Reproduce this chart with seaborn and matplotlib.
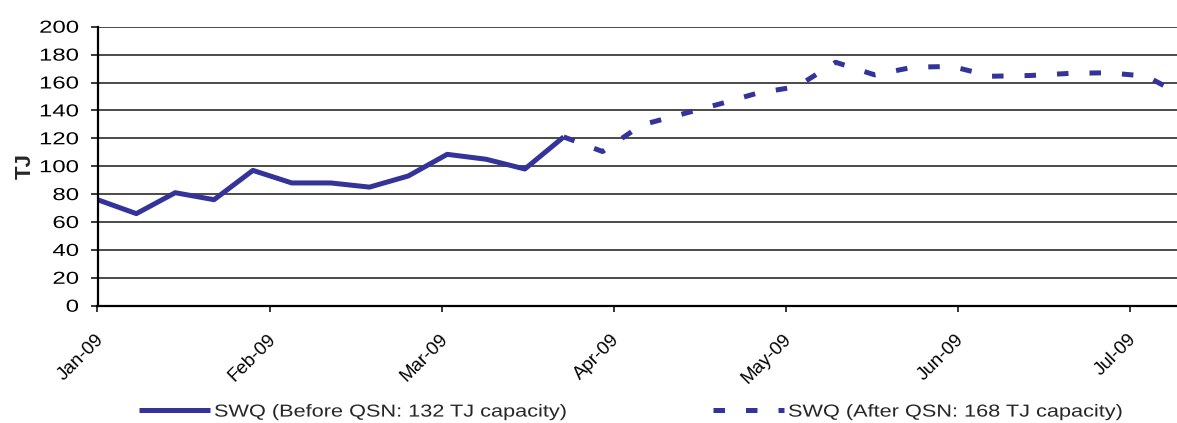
import matplotlib
matplotlib.use("Agg")
import matplotlib.pyplot as plt
import matplotlib.dates as mdates
import matplotlib.patheffects as patheffects
from matplotlib.transforms import Affine2D, ScaledTranslation
import pandas as pd
import seaborn as sns

# Weekly SWQ flows (TJ), first week starting 1 Jan 2009
first_week = "2009-01-01"
before_values = [76, 66, 81, 76, 97, 88, 88, 85, 93, 108.5, 105, 98, 121]
after_values = [121, 110.5, 129.5, 137, 144.5, 152.5, 157, 174.5, 165.5,
                171, 171.5, 164.5, 165, 166.5, 167, 164.5, 149.5]
before_label = "SWQ (Before QSN: 132 TJ capacity)"
after_label = "SWQ (After QSN: 168 TJ capacity)"
y_ticks = [0, 20, 40, 60, 80, 100, 120, 140, 160, 180, 200]
y_label = "TJ"

n_weeks = len(before_values) + len(after_values) - 1
weeks = pd.date_range(first_week, periods=n_weeks, freq="7D")
before = pd.DataFrame({"week": weeks[:len(before_values)], "TJ": before_values})
after = pd.DataFrame({"week": weeks[len(before_values) - 1:], "TJ": after_values})


class WideText(patheffects.AbstractPathEffect):
    """Widen glyphs along the text direction, keeping one end fixed."""

    def __init__(self, factor, anchor="left"):
        super().__init__()
        self.factor = factor
        self.anchor = anchor

    def draw_path(self, renderer, gc, tpath, affine, rgbFace=None):
        ext = tpath.get_extents()
        x0 = {"left": 0.0, "right": ext.x1, "center": 0.5 * (ext.x0 + ext.x1)}[self.anchor]
        pre = Affine2D().translate(-x0, 0).scale(self.factor, 1).translate(x0, 0)
        renderer.draw_path(gc, tpath, pre + affine, rgbFace)


sns.set_style("white")
plt.rcParams["font.family"] = ["Liberation Sans", "DejaVu Sans"]

navy = "#333399"
W, H = 1177, 423
fig = plt.figure(figsize=(W / 100, H / 100), dpi=100)
ax = fig.add_axes([97.5 / W, 1 - 305.7 / H, (W - 97.5) / W, (305.7 - 26.7) / H])

sns.lineplot(data=before, x="week", y="TJ", ax=ax, color=navy, linewidth=3.6,
             label=before_label, solid_capstyle="butt")
sns.lineplot(data=after, x="week", y="TJ", ax=ax, color=navy, linewidth=3.6,
             linestyle=(0, (2.3, 4.2)), dash_capstyle="butt", label=after_label)

start = pd.Timestamp(first_week)
ax.set_xlim(start, start + pd.Timedelta(days=194.5))
ax.set_ylim(0, 200)
ax.set_yticks(y_ticks)
ax.set_xticks([start + pd.Timedelta(days=31 * k) for k in range(7)])
ax.xaxis.set_major_formatter(mdates.DateFormatter("%b-%y"))

ax.grid(axis="y", color="#1a1a1a", linewidth=1.1)
ax.set_axisbelow(True)
for side in ("top", "right"):
    ax.spines[side].set_visible(False)
for side in ("left", "bottom"):
    ax.spines[side].set_color("black")
    ax.spines[side].set_linewidth(1.6)

ax.tick_params(axis="y", left=True, length=5, width=1.1, pad=8.5,
               labelsize=12.5, colors="black")
ax.tick_params(axis="x", bottom=True, length=4.5, width=1.1, pad=17.8,
               labelsize=13.5, colors="black")
nudge = ScaledTranslation(3.5 / 100, 0, fig.dpi_scale_trans)
for lbl in ax.get_xticklabels():
    lbl.set_rotation(45)
    lbl.set_ha("right")
    lbl.set_va("center")
    lbl.set_rotation_mode("anchor")
    lbl.set_transform(lbl.get_transform() + nudge)
for lbl in ax.get_yticklabels():
    lbl.set_path_effects([WideText(1.38, "right")])

ax.set_xlabel("")
ax.set_ylabel(y_label, fontsize=16, fontweight="bold")
ax.yaxis.set_label_coords(-(97.5 - 35.3) / (W - 97.5), 0.5)

handles, labels = ax.get_legend_handles_labels()
ax.get_legend().remove()
legend_y = 1 - 412 / H
for h, l, x0 in ((handles[0], labels[0], 139), (handles[1], labels[1], 713)):
    leg = fig.legend([h], [l], loc="center left", bbox_to_anchor=(x0 / W, legend_y),
                     frameon=False, fontsize=12.5, handlelength=4.09,
                     handletextpad=0.23, borderpad=0, borderaxespad=0)
    for t in leg.get_texts():
        t.set_path_effects([WideText(1.25, "left")])

fig.savefig("out.png", dpi=100)
